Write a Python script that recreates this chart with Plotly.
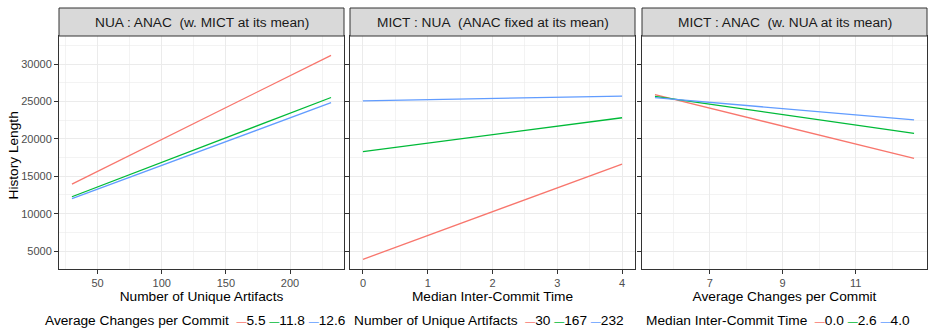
import plotly.graph_objects as go

# ---- data ----
colors = ["#F8766D", "#00BA38", "#619CFF"]

# Panel 1: NUA x ANAC (MICT at mean)
p1_title = "NUA : ANAC\u00a0 (w. MICT at its mean)"
p1_x = [30, 232]
p1_levels = ["5.5", "11.8", "12.6"]
p1_y = {
    "5.5": [13950, 31170],
    "11.8": [12260, 25530],
    "12.6": [12000, 24840],
}
p1_xlabel = "Number of Unique Artifacts"
p1_legend = "Average Changes per Commit"

# Panel 2: MICT x NUA (ANAC at mean)
p2_title = "MICT : NUA\u00a0 (ANAC fixed at its mean)"
p2_x = [0, 4]
p2_levels = ["30", "167", "232"]
p2_y = {
    "30": [3890, 16630],
    "167": [18280, 22820],
    "232": [25090, 25720],
}
p2_xlabel = "Median Inter-Commit Time"
p2_legend = "Number of Unique Artifacts"

# Panel 3: MICT x ANAC (NUA at mean)
p3_title = "MICT : ANAC\u00a0 (w. NUA at its mean)"
p3_x = [5.5, 12.6]
p3_levels = ["0.0", "2.6", "4.0"]
p3_y = {
    "0.0": [25900, 17390],
    "2.6": [25680, 20740],
    "4.0": [25500, 22550],
}
p3_xlabel = "Average Changes per Commit"
p3_legend = "Median Inter-Commit Time"

y_label = "History Length"
y_ticks = [5000, 10000, 15000, 20000, 25000, 30000]

panels = [
    (p1_title, p1_x, p1_levels, p1_y, p1_xlabel, p1_legend),
    (p2_title, p2_x, p2_levels, p2_y, p2_xlabel, p2_legend),
    (p3_title, p3_x, p3_levels, p3_y, p3_xlabel, p3_legend),
]

# ---- layout geometry (page body margin removed via post_script) ----
W, H = 934, 329
ML, MR, MT, MB = 59, 7, 8, 60
PW, PH = W - ML - MR, H - MT - MB
STRIP_H = 28
ydom_top = (PH - STRIP_H) / PH
xdoms = [
    [0, 285 / PW],
    [291 / PW, 576 / PW],
    [583 / PW, 1.0],
]
legend_x_px = [43, 352, 644]
legend_y_px = 320

FONT = "Liberation Sans, Arial, Helvetica, sans-serif"
FS = 13.7
GRID = "#EBEBEB"
BORDER = "#333333"
TICKC = "#4D4D4D"

fig = go.Figure()

shapes = []
annotations = []

for i, (title, xs, levels, ys, xlabel, legtitle) in enumerate(panels):
    ax = "" if i == 0 else str(i + 1)
    for lvl, c in zip(levels, colors):
        fig.add_trace(go.Scatter(
            x=xs, y=ys[lvl], mode="lines", name=lvl,
            line=dict(color=c, width=1.3),
            xaxis="x" + ax, yaxis="y" + ax, showlegend=False,
        ))
    # strip
    shapes.append(dict(
        type="rect", xref=f"x{ax} domain", yref="paper",
        x0=0, x1=1, y0=ydom_top, y1=1.0,
        fillcolor="#D9D9D9", line=dict(color=BORDER, width=1), layer="above",
    ))
    annotations.append(dict(
        text=title, xref=f"x{ax} domain", yref="paper",
        x=0.5, y=(ydom_top + 1) / 2, xanchor="center", yanchor="middle",
        showarrow=False, font=dict(size=FS, color="#1A1A1A", family=FONT),
    ))
    # legend (as text): short coloured line key + label
    items = "&nbsp;".join(
        f"<span style='color:{c};font-size:10px'>\u2014</span>{lvl}"
        for lvl, c in zip(levels, colors)
    )
    annotations.append(dict(
        text=f"{legtitle}&nbsp;&nbsp;" + items,
        xref="paper", yref="paper",
        x=(legend_x_px[i] - ML) / PW, y=-(legend_y_px - (H - MB)) / PH,
        xanchor="left", yanchor="middle", showarrow=False,
        font=dict(size=FS, color="black", family=FONT),
    ))

# y-axis title
annotations.append(dict(
    text=y_label, xref="paper", yref="paper",
    x=(12.5 - ML) / PW, y=((H - MB) - 156) / PH,
    xanchor="center", yanchor="middle", textangle=-90, showarrow=False,
    font=dict(size=FS, color="black", family=FONT),
))

xaxis_common = dict(
    showgrid=True, gridcolor=GRID, gridwidth=1,
    showline=True, linecolor=BORDER, linewidth=1, mirror=True,
    ticks="outside", ticklen=4, tickcolor=BORDER,
    tickfont=dict(size=11, color=TICKC, family=FONT),
    zeroline=False, automargin=False,
    title_font=dict(size=FS, color="black", family=FONT),
    title_standoff=3,
)

fig.update_layout(
    xaxis=dict(domain=xdoms[0], range=[19.9, 242.1], tick0=0, dtick=50,
               minor=dict(dtick=25, tick0=0, showgrid=True, gridcolor=GRID, gridwidth=0.6),
               title_text=p1_xlabel, anchor="y", **xaxis_common),
    xaxis2=dict(domain=xdoms[1], range=[-0.2, 4.2], tick0=0, dtick=1,
                minor=dict(dtick=0.5, tick0=0, showgrid=True, gridcolor=GRID, gridwidth=0.6),
                title_text=p2_xlabel, anchor="y2", **xaxis_common),
    xaxis3=dict(domain=xdoms[2], range=[5.145, 12.955], tickvals=[7, 9, 11],
                minor=dict(tickvals=[6, 8, 10, 12], showgrid=True, gridcolor=GRID, gridwidth=0.6),
                title_text=p3_xlabel, anchor="y3", **xaxis_common),
)

yaxis_common = dict(
    domain=[0, ydom_top], range=[2600, 33750], tickvals=y_ticks,
    tickformat="d",
    minor=dict(dtick=2500, tick0=0, showgrid=True, gridcolor=GRID, gridwidth=0.6),
    showgrid=True, gridcolor=GRID, gridwidth=1,
    showline=True, linecolor=BORDER, linewidth=1, mirror=True,
    ticks="outside", ticklen=4, tickcolor=BORDER,
    tickfont=dict(size=11, color=TICKC, family=FONT),
    zeroline=False, automargin=False,
)
fig.update_layout(
    yaxis=dict(anchor="x", **yaxis_common),
    yaxis2=dict(anchor="x2", matches="y", showticklabels=False, **yaxis_common),
    yaxis3=dict(anchor="x3", matches="y", showticklabels=False, **yaxis_common),
)

fig.update_layout(
    width=W, height=H,
    margin=dict(l=ML, r=MR, t=MT, b=MB, pad=0),
    paper_bgcolor="white", plot_bgcolor="white",
    font=dict(family=FONT, color="black"),
    shapes=shapes, annotations=annotations,
    showlegend=False,
    hovermode=False,
)

fig.write_html(
    "out.html",
    config={"displayModeBar": False, "staticPlot": True},
    post_script="document.body.style.margin='0';document.body.style.overflow='hidden';",
)
